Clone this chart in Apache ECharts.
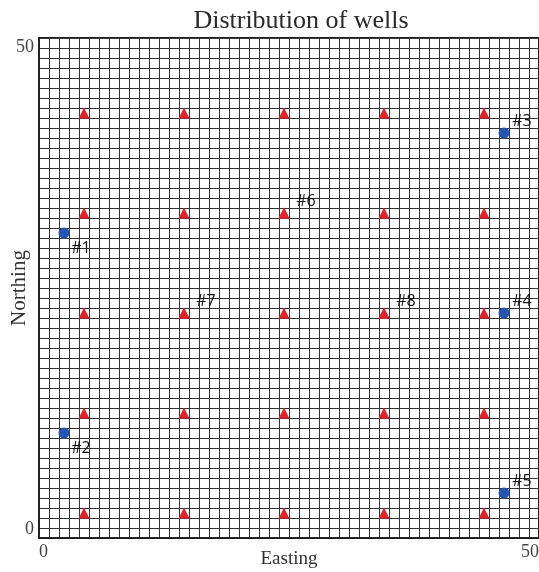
<!DOCTYPE html>
<html>
<head>
<meta charset="utf-8">
<script src="https://cdn.jsdelivr.net/npm/echarts@6/dist/echarts.min.js"></script>
<style>
  html, body { margin: 0; padding: 0; background: #fff; }
  #main { width: 539px; height: 572px; }
</style>
</head>
<body>
<div id="main"></div>
<script>
// well grid (red triangles)
const gridX = [4.5, 14.5, 24.5, 34.5, 44.5];
const gridY = [2.5, 12.5, 22.5, 32.5, 42.5];
// labelled red wells
const redNames = ["#6", "#7", "#8"];
const redX = [24.5, 14.5, 34.5];
const redY = [32.5, 22.5, 22.5];
// blue wells
const blueNames = ["#1", "#2", "#3", "#4", "#5"];
const blueX = [2.5, 2.5, 46.5, 46.5, 46.5];
const blueY = [30.5, 10.5, 40.5, 22.5, 4.5];

const redPts = [];
gridX.forEach(x => gridY.forEach(y => redPts.push([x, y])));

const serif = "Liberation Serif";
const labelFont = "'Liberation Sans Narrow', 'Open Sans', sans-serif";

var myChart = echarts.init(document.getElementById("main"));
myChart.setOption({
  animation: false,
  title: {
    text: "Distribution of wells",
    left: 296,
    textAlign: "center",
    top: 3,
    textStyle: { fontFamily: serif, fontSize: 26, fontWeight: "normal", color: "#2a2a2a" }
  },
  grid: {
    left: 39, top: 38, width: 500, height: 500,
    containLabel: false, outerBoundsMode: "none",
    show: true, borderColor: "#222", borderWidth: 2
  },
  xAxis: {
    type: "value", min: 0, max: 50, interval: 1,
    name: "Easting", nameLocation: "middle", nameGap: 12, nameMoveOverlap: false,
    nameTextStyle: { fontFamily: serif, fontSize: 19, color: "#333", verticalAlign: "top" },
    axisLine: { show: true, lineStyle: { color: "#222", width: 2 } },
    axisTick: { show: false },
    axisLabel: {
      fontFamily: serif, fontSize: 18, color: "#444", margin: 5,
      alignMinLabel: "left", alignMaxLabel: "right",
      formatter: v => (v === 0 || v === 50 ? String(v) : "")
    },
    splitLine: { show: true, lineStyle: { color: "#333", width: 1 } }
  },
  yAxis: {
    type: "value", min: 0, max: 50, interval: 1,
    name: "Northing", nameLocation: "middle", nameGap: 9, nameMoveOverlap: false,
    nameTextStyle: { fontFamily: serif, fontSize: 21, color: "#333", verticalAlign: "bottom" },
    axisLine: { show: true, lineStyle: { color: "#222", width: 2 } },
    axisTick: { show: false },
    axisLabel: {
      fontFamily: serif, fontSize: 18, color: "#444", margin: 5,
      verticalAlignMinLabel: "bottom", verticalAlignMaxLabel: "top",
      formatter: v => (v === 0 || v === 50 ? String(v) : "")
    },
    splitLine: { show: true, lineStyle: { color: "#333", width: 1 } }
  },
  series: [
    {
      type: "scatter",
      symbol: "triangle",
      symbolSize: 11,
      itemStyle: { color: "#e0242c", opacity: 1 },
      data: redPts
    },
    {
      type: "scatter",
      symbol: "triangle",
      symbolSize: 11,
      itemStyle: { color: "#e0242c", opacity: 1 },
      label: {
        show: true, position: "inside", offset: [22, -12],
        formatter: p => p.value[2],
        fontFamily: labelFont, fontSize: 16, color: "#111"
      },
      data: redX.map((x, i) => [x, redY[i], redNames[i]])
    },
    {
      type: "scatter",
      symbol: "circle",
      symbolSize: 11,
      itemStyle: { color: "#2456b0", opacity: 1 },
      label: {
        show: true, position: "inside", offset: [18, -12],
        formatter: p => p.value[2],
        fontFamily: labelFont, fontSize: 16, color: "#111"
      },
      data: blueX.map((x, i) => {
        const d = { value: [x, blueY[i], blueNames[i]] };
        if (x < 10) d.label = { offset: [17, 15] };
        return d;
      })
    }
  ]
});
</script>
</body>
</html>
